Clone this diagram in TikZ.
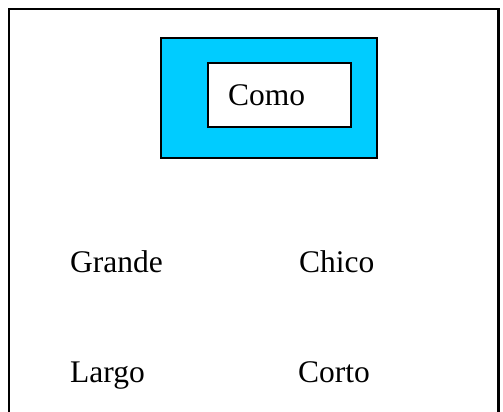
\documentclass[tikz,border=0pt]{standalone}
\usepackage{fontspec}
\setmainfont{Liberation Serif}
\definecolor{celeste}{HTML}{00CCFF}
\tikzset{
  palabra/.style={anchor=base west, inner sep=0pt, font=\fontsize{31.5}{36}\selectfont},
  marco/.style={draw=black, line width=2pt}
}

\begin{document}
\begin{tikzpicture}[x=1pt,y=-1pt]
			%%%%% START %%%%%
			
			\clip (0, 0) rectangle (503, 412);
			\fill[white] (0, 0) rectangle (503, 412);
			
			\draw[line width=2.2pt] (9, 9) -- (498.5, 9) -- (498.5, 430) -- (9, 430) -- cycle;
			
			\draw[marco, fill=celeste] (160.5, 38) rectangle (376.5, 157.5);
			\draw[marco, fill=white] (207.5, 63) rectangle (351, 127);
			\node[palabra] (como) at (228, 105) {Como};
			
			\node[palabra] (grande) at (70, 272) {Grande};
			\node[palabra] (chico) at (299, 272) {Chico};
			
			\node[palabra] (largo) at (70, 382) {Largo};
			\node[palabra] (corto) at (298, 382) {Corto};
			
			%%%%% END %%%%%
\end{tikzpicture}
\end{document}
